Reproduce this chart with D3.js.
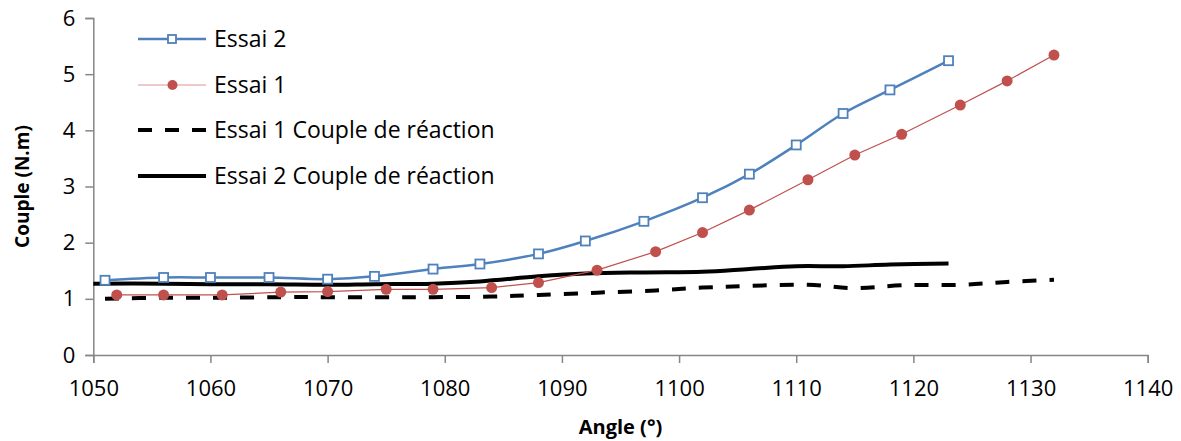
<!DOCTYPE html>
<html>
<head>
<meta charset="utf-8">
<script src="https://cdn.jsdelivr.net/npm/d3@7"></script>
<style>
  body { margin: 0; background: #fff; }
  svg { display: block; font-family: "Open Sans", sans-serif; }
</style>
</head>
<body>
<svg id="chart" width="1181" height="441"></svg>
<script>
// Essai 2 (blue squares)
let essai2Angle = [1051, 1056, 1060, 1065, 1070, 1074, 1079, 1083, 1088, 1092, 1097, 1102, 1106, 1110, 1114, 1118, 1123];
let essai2Couple = [1.33, 1.38, 1.38, 1.38, 1.35, 1.40, 1.53, 1.62, 1.80, 2.03, 2.38, 2.80, 3.22, 3.74, 4.30, 4.72, 5.24];

// Essai 1 (red dots)
let essai1Angle = [1052, 1056, 1061, 1066, 1070, 1075, 1079, 1084, 1088, 1093, 1098, 1102, 1106, 1111, 1115, 1119, 1124, 1128, 1132];
let essai1Couple = [1.07, 1.07, 1.07, 1.12, 1.13, 1.17, 1.17, 1.20, 1.29, 1.51, 1.84, 2.18, 2.58, 3.12, 3.56, 3.93, 4.45, 4.88, 5.34];

// Essai 1 couple de réaction (dashed)
let reaction1Angle = [1051, 1056, 1061, 1066, 1070, 1075, 1079, 1084, 1088, 1093, 1098, 1102, 1106, 1111, 1115, 1119, 1124, 1128, 1132];
let reaction1Couple = [1.00, 1.02, 1.02, 1.03, 1.03, 1.03, 1.03, 1.04, 1.07, 1.11, 1.15, 1.20, 1.23, 1.25, 1.19, 1.24, 1.25, 1.30, 1.34];

// Essai 2 couple de réaction (solid)
let reaction2Angle = [1050, 1056, 1060, 1065, 1070, 1074, 1079, 1083, 1088, 1092, 1097, 1102, 1106, 1110, 1114, 1118, 1123];
let reaction2Couple = [1.27, 1.27, 1.26, 1.26, 1.25, 1.26, 1.27, 1.31, 1.40, 1.45, 1.47, 1.48, 1.53, 1.58, 1.58, 1.61, 1.63];

let xTicks = [1050, 1060, 1070, 1080, 1090, 1100, 1110, 1120, 1130, 1140];
let yTicks = [0, 1, 2, 3, 4, 5, 6];

let legendLabels = ["Essai 2", "Essai 1", "Essai 1 Couple de réaction", "Essai 2 Couple de réaction"];

let blue = "#4F81BD",
    red = "#C0504D",
    axisGrey = "#868686";

let svg = d3.select("#chart");

let x = d3.scaleLinear().domain([1050, 1140]).range([93.3, 1147.7]);
let y = d3.scaleLinear().domain([0, 6]).range([355, 18]);

let zip = (xs, ys) => xs.map((v, i) => [v, ys[i]]);

// axes
let xAxis = svg.append("g")
  .attr("transform", `translate(0,${y(0)})`)
  .call(d3.axisBottom(x).tickValues(xTicks).tickSize(8).tickPadding(14).tickFormat(d3.format("d")));
let yAxis = svg.append("g")
  .attr("transform", `translate(${x(1050)},0)`)
  .call(d3.axisLeft(y).tickValues(yTicks).tickSize(8).tickPadding(10).tickFormat(d3.format("d")));

[xAxis, yAxis].forEach((g) => {
  g.select(".domain").attr("stroke", axisGrey).attr("stroke-width", 1.5);
  g.selectAll(".tick line").attr("stroke", axisGrey).attr("stroke-width", 1.5);
  g.selectAll(".tick text").attr("fill", "#000").style("font-size", "22px").style("font-family", "Open Sans, sans-serif");
});
xAxis.selectAll(".tick text").attr("dy", "0.85em");

// axis titles
svg.append("text")
  .attr("x", (x(1050) + x(1140)) / 2)
  .attr("y", 434)
  .attr("text-anchor", "middle")
  .style("font-size", "20px")
  .style("font-weight", "bold")
  .text("Angle (°)");
svg.append("text")
  .attr("transform", `translate(29,${(y(0) + y(6)) / 2}) rotate(-90)`)
  .attr("text-anchor", "middle")
  .style("font-size", "19px")
  .style("font-weight", "bold")
  .text("Couple (N.m)");

let smooth = d3.line().x(d => x(d[0])).y(d => y(d[1])).curve(d3.curveCatmullRom.alpha(0.5));
let straight = d3.line().x(d => x(d[0])).y(d => y(d[1]));

let plot = svg.append("g");

plot.append("path")
  .datum(zip(reaction1Angle, reaction1Couple))
  .attr("d", smooth)
  .attr("fill", "none")
  .attr("stroke", "#000")
  .attr("stroke-width", 4)
  .attr("stroke-dasharray", "14,13");

plot.append("path")
  .datum(zip(reaction2Angle, reaction2Couple))
  .attr("d", smooth)
  .attr("fill", "none")
  .attr("stroke", "#000")
  .attr("stroke-width", 4);

plot.append("path")
  .datum(zip(essai1Angle, essai1Couple))
  .attr("d", straight)
  .attr("fill", "none")
  .attr("stroke", red)
  .attr("stroke-width", 1.2);

plot.selectAll("circle.essai1")
  .data(zip(essai1Angle, essai1Couple))
  .enter()
  .append("circle")
  .attr("class", "essai1")
  .attr("cx", d => x(d[0]))
  .attr("cy", d => y(d[1]))
  .attr("r", 5.5)
  .attr("fill", red);

plot.append("path")
  .datum(zip(essai2Angle, essai2Couple))
  .attr("d", smooth)
  .attr("fill", "none")
  .attr("stroke", blue)
  .attr("stroke-width", 2.5);

plot.selectAll("rect.essai2")
  .data(zip(essai2Angle, essai2Couple))
  .enter()
  .append("rect")
  .attr("class", "essai2")
  .attr("x", d => x(d[0]) - 4.5)
  .attr("y", d => y(d[1]) - 4.5)
  .attr("width", 9)
  .attr("height", 9)
  .attr("fill", "#fff")
  .attr("stroke", blue)
  .attr("stroke-width", 1.8);

// legend
let legendY = [39, 85, 130, 176];
let legend = svg.append("g");
legendLabels.forEach((label, i) => {
  let row = legend.append("g").attr("transform", `translate(0,${legendY[i]})`);
  let line = row.append("line")
    .attr("x1", 138).attr("x2", 206)
    .attr("y1", 0).attr("y2", 0);
  if (i === 0) {
    line.attr("stroke", blue).attr("stroke-width", 2.5);
    row.append("rect").attr("x", 168).attr("y", -4).attr("width", 8).attr("height", 8)
      .attr("fill", "#fff").attr("stroke", blue).attr("stroke-width", 1.8);
  } else if (i === 1) {
    line.attr("stroke", "#D99694").attr("stroke-width", 1.2);
    row.append("circle").attr("cx", 172.5).attr("cy", 0).attr("r", 5).attr("fill", red);
  } else if (i === 2) {
    line.attr("stroke", "#000").attr("stroke-width", 4).attr("stroke-dasharray", "14,13");
  } else {
    line.attr("stroke", "#000").attr("stroke-width", 4);
  }
  row.append("text")
    .attr("x", 214)
    .attr("y", 0)
    .attr("dy", "0.35em")
    .style("font-size", "23px")
    .text(label);
});
</script>
</body>
</html>
